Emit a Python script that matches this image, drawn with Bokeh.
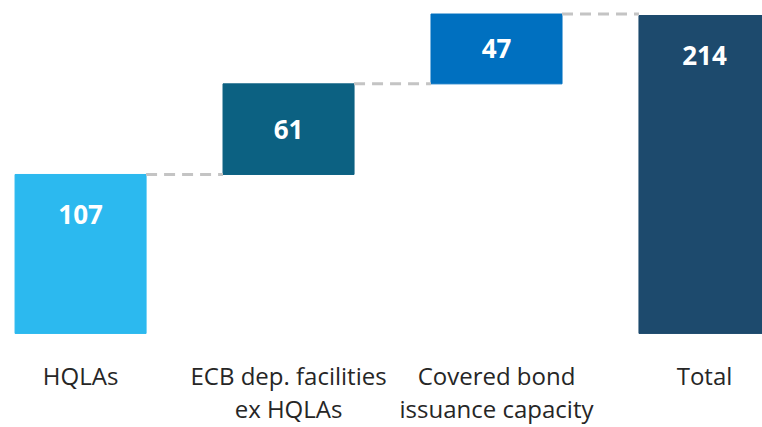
from bokeh.plotting import figure
from bokeh.models import Range1d, ColumnDataSource
from bokeh.core.properties import value
from bokeh.embed import file_html
from bokeh.resources import INLINE

categories = ["HQLAs", "ECB dep. facilities\nex HQLAs", "Covered bond\nissuance capacity", "Total"]
values = [107, 61, 47, 214]
is_total = [False, False, False, True]
colors = ["#2CB9EF", "#0C6182", "#0070C0", "#1D4A6D"]

# waterfall geometry from data
bottoms, tops = [], []
run = 0
for v, t in zip(values, is_total):
    if t:
        bottoms.append(0)
        tops.append(v)
    else:
        bottoms.append(run)
        run += v
        tops.append(run)

xs = list(range(len(categories)))
label_y = [(b + t) / 2 if (t - b) < 80 else t - 27 for b, t in zip(bottoms, tops)]

p = figure(width=762, height=427, output_backend="svg", toolbar_location=None,
           x_range=Range1d(-0.385, 3.279), y_range=Range1d(-63.3, 224.1),
           min_border=0, outline_line_color=None, background_fill_color="white")
p.axis.visible = False
p.grid.visible = False

src = ColumnDataSource(dict(x=xs, top=tops, bottom=bottoms, color=colors,
                            label=[str(v) for v in values], ly=label_y))
p.vbar(x="x", top="top", bottom="bottom", width=0.63, color="color", source=src)

# connectors
for i in range(len(xs) - 1):
    level = tops[i]
    p.line([xs[i] + 0.315, xs[i + 1] - 0.315], [level, level],
           line_color="#C4C4C4", line_width=3, line_dash="11 7")

p.text(x="x", y="ly", text="label", source=src, text_color="white",
       text_font=value("Open Sans"), text_font_size="26px", text_font_style="bold",
       text_align="center", text_baseline="middle")

line1 = [c.split("\n")[0] for c in categories]
line2 = [c.split("\n")[1] if "\n" in c else "" for c in categories]
p.text(x=xs, y=[-28.6] * 4, text=line1, text_color="#262626",
       text_font=value("Open Sans"), text_font_size="24px",
       text_align="center", text_baseline="middle")
p.text(x=xs, y=[-50.2] * 4, text=line2, text_color="#262626",
       text_font=value("Open Sans"), text_font_size="24px",
       text_align="center", text_baseline="middle")

open("out.html", "w").write(file_html(p, INLINE))
